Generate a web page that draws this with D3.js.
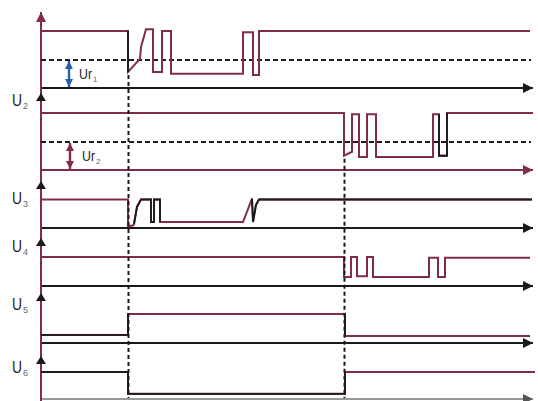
<!DOCTYPE html>
<html><head><meta charset="utf-8">
<script src="https://cdn.jsdelivr.net/npm/d3@7"></script>
<style>body{margin:0;background:#fff}svg{display:block}</style>
</head><body>
<svg id="c" width="538" height="401"></svg>
<script>
// ---- data (time units, volts) ----
const signalNames = ["U1","U2","U3","U4","U5","U6"];
const labels = ["", "2", "3", "4", "5", "6"];
const sigU1 = [[0,10],[87,10],[87,2.8],[99,5.1],[100,7.2],[105,10.3],[112,10.3],[112,2.8],[121,2.8],[121,10],[130,10],[130,2.5],[202,2.5],[202,9.8],[212,9.8],[212,2.3],[218,2.3],[218,10],[489,10]];
const sigU2 = [[0,10],[303,10],[303,2.5],[311,3.2],[311,9.8],[318,9.8],[318,2.3],[326,2.3],[326,9.8],[335,9.8],[335,2.3],[392,2.3],[392,9.8],[398,9.8],[398,2.5],[406,2.5],[406,10],[492,10]];
const sigU3 = [[0,10],[87,10],[87,0.7],[92,0.9],[93,1.4],[96,7.4],[100,10],[110,10],[110,2.1],[113,2.1],[113,10],[119,10],[119,2.1],[202,2.1],[211,10.3],[212,2.1],[215,8.1],[218,10],[491,10]];
const sigU4 = [[0,10],[303,10],[303,3.1],[310,3.1],[310,10],[316,10],[316,3.4],[326,3.4],[326,10],[332,10],[332,3.1],[388,3.1],[388,9.7],[397,9.7],[397,3.1],[404,3.1],[404,9.7],[489,9.7]];
const sigU5 = [[0,2.8],[87,2.8],[87,10],[304,10],[304,2.4],[489,2.4]];
const sigU6 = [[0,10],[87,10],[87,1.9],[304,1.9],[304,10],[494,10]];
const thresholds = [4.9, 4.9];            // Ur1, Ur2 (volts)
const markerTimes = [87, 303];            // vertical dashed markers
const markerFrom = [2.8, 2.5];            // start level of markers in U1 / U2
const urTimes = [28, 29];

// ---- layout / style ----
const W = 538, H = 401;
const maroon = "#812c4d", black = "#1a1a1a";
const x = d3.scaleLinear().domain([0, 490]).range([41, 531]);
const panels = [ // axis pixel y, high-level pixel y
  {axis: 88, high: 31, axisColor: black},
  {axis: 170, high: 113, axisColor: maroon},
  {axis: 228, high: 199.5, axisColor: black},
  {axis: 286, high: 257, axisColor: black},
  {axis: 343, high: 314, axisColor: black},
  {axis: 399, high: 372, axisColor: "#9a9a9a"}
];
const labelBase = [null, 106, 204, 252, 310, 373];
const arrowTips = [12, 93, 181, 238, 293, 356];
const blackRuns = [[[1,2]], [[13,16]], [[4,12],[14,18]], [], [[0,2],[3,4]], [[0,4]]];
const signals = [sigU1, sigU2, sigU3, sigU4, sigU5, sigU6];
panels.forEach(p => p.y = d3.scaleLinear().domain([0, 10]).range([p.axis, p.high]));

const svg = d3.select("#c");
const defs = svg.append("defs");
function marker(id, color, w, h){
  defs.append("marker").attr("id", id).attr("viewBox", "0 0 10 10").attr("refX", 10).attr("refY", 5)
    .attr("markerWidth", w).attr("markerHeight", h).attr("markerUnits", "userSpaceOnUse").attr("orient", "auto-start-reverse")
    .append("path").attr("d", "M0,0L10,5L0,10z").attr("fill", color);
}
marker("ak", black, 10, 10);
marker("am", maroon, 10, 10);
marker("ag", "#555", 10, 10);
marker("ab", "#2b5fae", 8, 9);
marker("ar", maroon, 8, 9);

// horizontal axes
panels.forEach((p, i) => {
  const id = i === 1 ? "am" : (i === 5 ? "ag" : "ak");
  svg.append("line").attr("x1", x(0)).attr("x2", x(492)).attr("y1", p.axis).attr("y2", p.axis)
    .attr("stroke", p.axisColor).attr("stroke-width", 2).attr("marker-end", `url(#${id})`);
});

// vertical y-axis
svg.append("line").attr("x1", x(0)).attr("x2", x(0)).attr("y1", H + 2).attr("y2", arrowTips[0])
  .attr("stroke", maroon).attr("stroke-width", 2).attr("marker-end", "url(#am)");
arrowTips.slice(1).forEach(t => {
  svg.append("path").attr("d", `M${x(0)},${t}L${x(0)+5},${t+8}L${x(0)-5},${t+8}Z`).attr("fill", black);
});

// thresholds
thresholds.forEach((v, i) => {
  const p = panels[i];
  svg.append("line").attr("x1", x(0)).attr("x2", x(490)).attr("y1", p.y(v)).attr("y2", p.y(v))
    .attr("stroke", black).attr("stroke-width", 2).attr("stroke-dasharray", "5,3");
});

// signals
const line = (p) => d3.line().x(d => x(d[0])).y(d => p.y(d[1]));
signals.forEach((s, i) => {
  const p = panels[i];
  svg.append("path").attr("d", line(p)(s)).attr("fill", "none").attr("stroke", maroon)
    .attr("stroke-width", 2).attr("stroke-linejoin", "miter");
  blackRuns[i].forEach(([a, b]) => {
    svg.append("path").attr("d", line(p)(s.slice(a, b + 1))).attr("fill", "none").attr("stroke", black)
      .attr("stroke-width", 1.8);
  });
});

// vertical dashed markers
markerTimes.forEach((t, i) => {
  svg.append("line").attr("x1", x(t) + 0.5).attr("x2", x(t) + 0.5)
    .attr("y1", panels[i].y(markerFrom[i]) + 3).attr("y2", 398)
    .attr("stroke", black).attr("stroke-width", 2).attr("stroke-dasharray", "4,3");
});

// Ur arrows
const urColors = ["ab", "ar"], urStroke = ["#2b5fae", maroon];
urTimes.forEach((t, i) => {
  const p = panels[i];
  svg.append("line").attr("x1", x(t)).attr("x2", x(t)).attr("y1", p.y(thresholds[i]) + 1).attr("y2", p.axis - 1)
    .attr("stroke", urStroke[i]).attr("stroke-width", 2.4)
    .attr("marker-start", `url(#${urColors[i]})`).attr("marker-end", `url(#${urColors[i]})`);
  const ty = (p.y(thresholds[i]) + p.axis) / 2 + 5;
  const g = svg.append("g").attr("font-family", "Liberation Sans, Arial, sans-serif");
  g.append("text").attr("x", x(t) + 10 + i * 2).attr("y", ty).attr("font-size", 14).attr("fill", "#222")
    .attr("textLength", 13).attr("lengthAdjust", "spacingAndGlyphs").text("Ur");
  g.append("text").attr("x", x(t) + 24 + i * 2).attr("y", ty + 3).attr("font-size", 8).attr("fill", "#666").text(String(i + 1));
});

// U labels
labels.forEach((l, i) => {
  if (!l) return;
  const g = svg.append("g").attr("font-family", "Liberation Sans, Arial, sans-serif");
  g.append("text").attr("x", 12).attr("y", labelBase[i]).attr("font-size", 17).attr("fill", "#222")
    .attr("textLength", 10).attr("lengthAdjust", "spacingAndGlyphs").text("U");
  g.append("text").attr("x", 23).attr("y", labelBase[i] + 3).attr("font-size", 9).attr("fill", "#666").text(l);
});
</script>
</body></html>
